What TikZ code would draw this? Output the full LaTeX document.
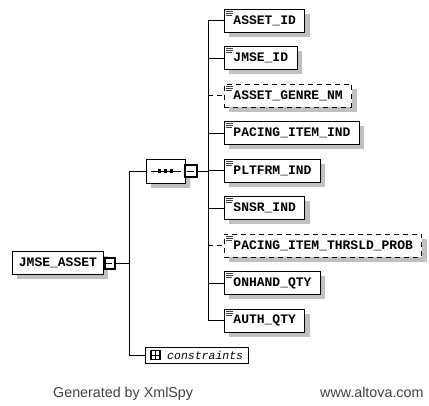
\documentclass[tikz,border=0pt]{standalone}
\usepackage{fontspec}
\setmainfont{Liberation Sans}
\newfontfamily\elemfont{Liberation Mono}
\usetikzlibrary{shadows,shapes.misc}
\definecolor{shadowgray}{HTML}{C0C0C0}
\definecolor{footgray}{HTML}{404040}
\tikzset{
  elem/.style={draw=black, line width=0.9pt, fill=white, anchor=west,
    minimum height=23pt, inner xsep=9pt, inner ysep=0pt,
    font=\elemfont\bfseries\fontsize{13}{13}\selectfont,
    general shadow={fill=shadowgray, shadow xshift=5pt, shadow yshift=-5pt}},
  optelem/.style={elem, dash pattern=on 5pt off 4pt},
  link/.style={draw=black, line width=0.9pt},
  optlink/.style={link, dash pattern=on 5pt off 4pt},
  expander/.style={draw=black, line width=1.6pt, fill=white,
    minimum width=10pt, minimum height=11pt, inner sep=0pt},
}
% small "simple content" marker in a box's upper left corner
\newcommand{\elemicon}[1]{%
  \draw[line width=0.7pt, black!75]
    ([shift={(2pt,-2.5pt)}]#1.north west) -- ++(7pt,0)
    ([shift={(2pt,-4.5pt)}]#1.north west) -- ++(7pt,0)
    ([shift={(2pt,-6.5pt)}]#1.north west) -- ++(6pt,0);}
\begin{document}
\begin{tikzpicture}[x=1pt,y=-1pt]
\useasboundingbox (0,0) rectangle (429,406);

% root element with its collapse box
\node[elem, inner xsep=6.5pt] (root) at (12,262.5) {JMSE\_ASSET};
\node[expander] (rootx) at (110,263.5) {};
\draw[line width=0.9pt] (rootx.west) ++(2pt,0) -- ++(6pt,0);
\coordinate (trunk) at (129,263.5);
\coordinate (trunktop) at (129,171);
\coordinate (trunkbot) at (129,355);
\draw[link] (rootx.east) -- (trunk);
\draw[link] (trunktop) -- (trunkbot);

% sequence compositor
\node[chamfered rectangle, chamfered rectangle xsep=6pt, chamfered rectangle ysep=6pt,
  draw=black, line width=0.9pt, fill=white, minimum width=39pt, minimum height=24pt,
  inner sep=0pt, general shadow={fill=shadowgray, shadow xshift=5pt, shadow yshift=-5pt}]
  (seq) at (165.5,171) {};
\draw[line width=0.9pt] ([xshift=5pt]seq.west) -- ([xshift=-4pt]seq.east);
\foreach \dx in {-6,0,6}
  \fill ([xshift=\dx pt]seq.center) ++(-1.6pt,-1.6pt) rectangle ++(3.2pt,3.2pt);
\node[expander, minimum width=12pt, minimum height=12pt] (seqx) at (191,171) {};
\draw[line width=0.9pt] (seqx.west) ++(2.5pt,0) -- ++(7pt,0);
\draw[link] (trunktop) -- (seq.west);
\coordinate (branchtop) at (208,20.5);
\coordinate (branchbot) at (208,320.5);
\draw[link] (seqx.east) -- (208,171);
\draw[link] (branchtop) -- (branchbot);

% child elements
\foreach \name/\txt/\y/\sty in {
  a/ASSET\_ID/20.5/elem,
  b/JMSE\_ID/58/elem,
  c/ASSET\_GENRE\_NM/95.5/optelem,
  d/PACING\_ITEM\_IND/133/elem,
  e/PLTFRM\_IND/170.5/elem,
  f/SNSR\_IND/208/elem,
  g/PACING\_ITEM\_THRSLD\_PROB/245.5/optelem,
  h/ONHAND\_QTY/283/elem,
  i/AUTH\_QTY/320.5/elem}{
  \node[\sty] (\name) at (224,\y) {\txt};
  \elemicon{\name}
}
\foreach \name in {a,b,d,e,f,h,i}
  \draw[link] (208,0 |- \name.west) -- (\name.west);
\foreach \name in {c,g}
  \draw[optlink] (208,0 |- \name.west) -- (\name.west);

% constraints
\node[draw=black, line width=0.9pt, anchor=west, minimum height=16pt,
  inner xsep=0pt, inner ysep=0pt, minimum width=103pt] (cons) at (145,355) {};
\node[anchor=west, inner sep=0pt,
  font=\elemfont\itshape\fontsize{11.5}{11.5}\selectfont] (constxt) at (167,355) {constraints};
\node[draw=black, line width=1.3pt, minimum width=9pt, minimum height=9pt,
  inner sep=0pt] (consx) at (155.5,355) {};
\draw[line width=0.9pt] (consx.west) -- (consx.east) (consx.north) -- (consx.south);
\draw[link] (trunkbot) -- (cons.west);

% footer
\node[anchor=base west, inner sep=0pt, text=footgray, font=\fontsize{14.3}{14.3}\selectfont]
  (gen) at (53,398) {Generated by XmlSpy};
\node[anchor=base west, inner sep=0pt, text=footgray, font=\fontsize{14.3}{14.3}\selectfont]
  (url) at (320,398) {www.altova.com};
\end{tikzpicture}
\end{document}
